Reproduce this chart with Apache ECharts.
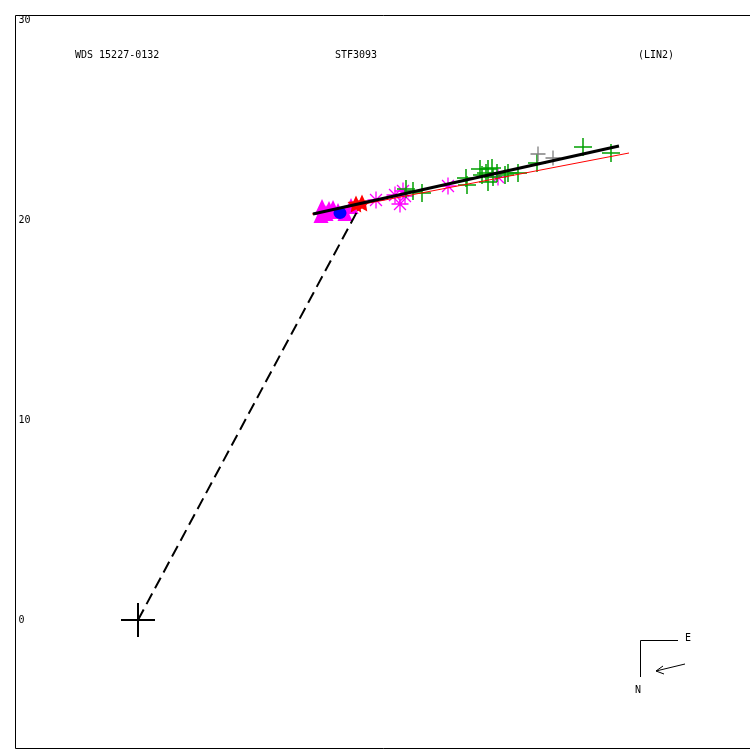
<!DOCTYPE html>
<html><head><meta charset="utf-8">
<script src="https://cdn.jsdelivr.net/npm/echarts@6/dist/echarts.min.js"></script>
<style>html,body{margin:0;padding:0;background:#fff}#c{width:750px;height:750px}</style>
</head><body><div id="c"></div>
<script>
// ---- data ----
const yTickValues = [0, 10, 20, 30];
const titleWds = 'WDS 15227-0132';
const titleDisc = 'STF3093';
const titleOrbit = '(LIN2)';
const greenPlus = [[13.4,21.55],[13.75,21.45],[14.2,21.35],[16.4,22.1],[16.45,21.75],[17.1,22.55],[17.2,22.25],[17.4,22.35],[17.5,22.55],[17.7,22.6],[17.75,22.15],[17.5,21.9],[17.95,22.35],[18.35,22.25],[18.5,22.35],[19.0,22.35],[19.95,22.85],[22.25,23.65],[23.65,23.35]];
const grayPlus = [[20.0,23.3],[20.75,23.1]];
const magentaAsterisk = [[11.9,21.0],[12.85,21.25],[13.25,21.45],[13.35,21.2],[13.1,20.8],[15.5,21.7],[18.0,22.15]];
const magentaTriangle = [[9.2,20.65],[9.4,20.35],[9.15,20.25],[9.75,20.6],[10.0,20.45],[10.35,20.35],[10.65,20.7],[9.55,20.55]];
const blueCircle = [[10.1,20.35]];
const redStar = [[10.9,20.8],[11.2,20.85]];
const fitLine = [[8.75,20.3],[24.05,23.7]];
const redLine = [[8.7,20.3],[24.55,23.35]];
const residualLine = [[0,0],[11.05,20.6]];
const primary = [[0,0]];

const FONT = 'DejaVu Sans Mono';
const plusPath = 'path://M0,-10L0,10M-10,0L10,0';
const asteriskPath = 'path://M0,-10L0,10M-10,0L10,0M-7,-7L7,7M-7,7L7,-7';
const starPath = 'path://M0,-10L2.9,-4L9.5,-3.1L4.7,1.5L5.9,8.1L0,5L-5.9,8.1L-4.7,1.5L-9.5,-3.1L-2.9,-4Z';

const chart = echarts.init(document.getElementById('c'), null, {renderer:'canvas'});
function scatter(data, symbol, size, fill, stroke, bw, z){
  return {type:'scatter', data, symbol, symbolSize:size, z, silent:true,
    itemStyle:{color:fill, borderColor:stroke, borderWidth:bw, opacity:1}};
}
const tStyle = {fontFamily:FONT,fontSize:10,fontWeight:'normal',color:'#000'};
chart.setOption({
  animation:false,
  backgroundColor:'#fff',
  title:[
    {text:titleWds, left:75, top:50, padding:0, textStyle:tStyle},
    {text:titleDisc, left:335, top:50, padding:0, textStyle:tStyle},
    {text:titleOrbit, left:638, top:50, padding:0, textStyle:tStyle}
  ],
  grid:{left:15.5, top:15.5, width:740, height:733, show:true, borderColor:'#000', borderWidth:1, containLabel:false, outerBoundsMode:'none'},
  xAxis:{type:'value', min:-6.125, max:30.875, show:true, axisLine:{show:false}, axisTick:{show:false}, axisLabel:{show:false}, splitLine:{show:false}},
  yAxis:{type:'value', min:-6.425, max:30.225, axisLine:{show:false}, axisTick:{show:false}, splitLine:{show:false},
    axisLabel:{show:true, inside:true, margin:3, customValues:yTickValues, fontFamily:FONT, fontSize:10, color:'#000', align:'left'}},
  series:[
    scatter(magentaTriangle,'triangle',[15,16],'#ff00ff','#ff00ff',0,2),
    scatter(blueCircle,'circle',[13,12],'#0000ff','#0000ff',0,3),
    scatter(redStar,starPath,17,'#ff0000','#ff0000',0,3),
    scatter(magentaAsterisk,asteriskPath,17,'none','#ff00ff',1.3,3),
    scatter(greenPlus,plusPath,18,'none','#00a000',1.5,3),
    scatter(grayPlus,plusPath,15,'none','#808080',1.3,3),
    scatter(primary,plusPath,34,'none','#000',2,4),
    {type:'line', data:redLine, symbol:'none', z:5, silent:true, lineStyle:{color:'#ff0000', width:1}},
    {type:'line', data:fitLine, symbol:'none', z:6, silent:true, lineStyle:{color:'#000', width:3}},
    {type:'line', data:residualLine, symbol:'none', z:6, silent:true, lineStyle:{color:'#000', width:2, type:[12,6]}}
  ],
  graphic:[
    {type:'polyline', shape:{points:[[640.5,677],[640.5,640.5],[678,640.5]]}, style:{stroke:'#000', lineWidth:1, fill:null}},
    {type:'polyline', shape:{points:[[685,664],[656,671]]}, style:{stroke:'#000', lineWidth:1, fill:null}},
    {type:'polyline', shape:{points:[[663,666],[656,671],[664,674]]}, style:{stroke:'#000', lineWidth:1, fill:null}},
    {type:'text', left:685, top:633, style:{text:'E', font:'10px '+FONT, fill:'#000'}},
    {type:'text', left:635, top:685, style:{text:'N', font:'10px '+FONT, fill:'#000'}}
  ]
});
</script></body></html>
